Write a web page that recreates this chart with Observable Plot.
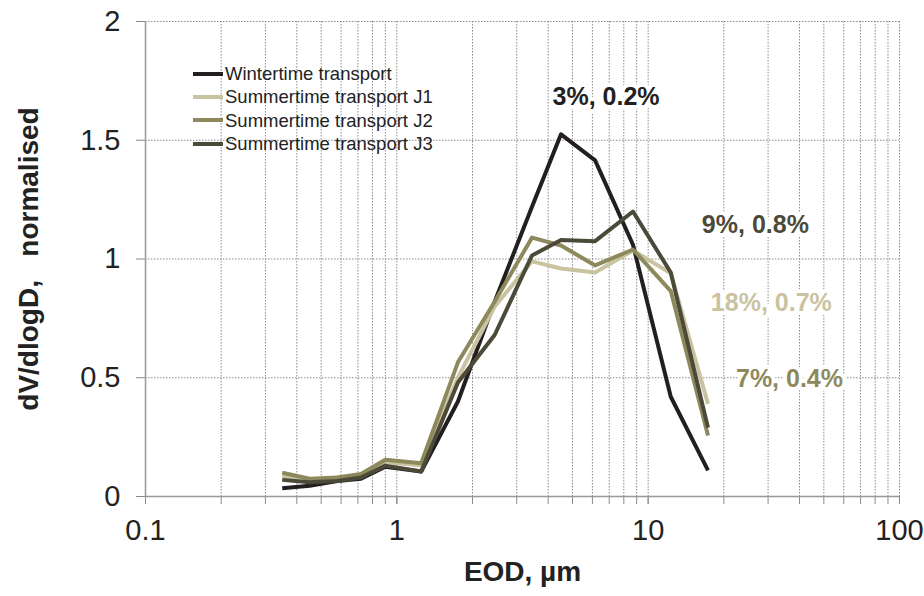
<!DOCTYPE html>
<html>
<head>
<meta charset="utf-8">
<script src="https://cdn.jsdelivr.net/npm/d3@7"></script>
<script src="https://cdn.jsdelivr.net/npm/@observablehq/plot@0.6"></script>
<style>
  body { margin: 0; background: #fff; }
  #wrap { position: relative; width: 924px; height: 596px; }
  #legend { position: absolute; left: 193px; top: 62px; font-family: "Liberation Sans", Arial, sans-serif; font-size: 18.5px; color: #222; line-height: 23.3px; }
  #legend .row { display: flex; align-items: center; white-space: nowrap; }
  #legend .sw { width: 30px; height: 4px; margin-right: 2px; }
</style>
</head>
<body>
<div id="wrap"><div id="legend"></div></div>
<script>
// ---- data ----
const sizes = [0.35, 0.45, 0.58, 0.72, 0.9, 1.25, 1.75, 2.45, 3.45, 4.5, 6.15, 8.7, 12.3, 17.3];
const winter = [0.035, 0.045, 0.065, 0.075, 0.125, 0.105, 0.40, 0.82, 1.22, 1.525, 1.415, 1.06, 0.42, 0.11];
const summerJ1 = [0.085, 0.07, 0.08, 0.09, 0.145, 0.13, 0.50, 0.80, 0.99, 0.96, 0.943, 1.036, 0.94, 0.39];
const summerJ2 = [0.10, 0.075, 0.08, 0.095, 0.155, 0.14, 0.565, 0.82, 1.09, 1.057, 0.973, 1.04, 0.865, 0.257];
const summerJ3 = [0.07, 0.06, 0.065, 0.08, 0.13, 0.105, 0.48, 0.68, 1.015, 1.08, 1.075, 1.2, 0.943, 0.29];
const seriesNames = ["Wintertime transport", "Summertime transport J1", "Summertime transport J2", "Summertime transport J3"];
const seriesColors = ["#231f20", "#c9c3a1", "#8e895d", "#4b4a39"];
const xTickLabels = [0.1, 1, 10, 100];
const yTicks = [0, 0.5, 1, 1.5, 2];
const annotationTexts = ["3%, 0.2%", "9%, 0.8%", "18%, 0.7%", "7%, 0.4%"];
const annotationSeries = [0, 3, 1, 2];
const annotationX = [6.8, 26.7, 30.9, 36.5];
const annotationY = [1.684, 1.145, 0.813, 0.493];

// ---- build ----
const allSeries = [winter, summerJ1, summerJ2, summerJ3];
const rows = [];
allSeries.forEach((vals, si) => vals.forEach((v, i) => rows.push({x: sizes[i], y: v, series: seriesNames[si]})));
const minorTicks = [];
[0.1, 1, 10].forEach(d => { for (let k = 1; k <= 9; k++) minorTicks.push(+(d * k).toPrecision(3)); });
minorTicks.push(100);
const annotations = annotationTexts.map((t, i) => ({text: t, x: annotationX[i], y: annotationY[i], color: seriesColors[annotationSeries[i]]}));

const font = '"Liberation Sans", Arial, sans-serif';

const chart = Plot.plot({
  width: 924,
  height: 596,
  marginLeft: 145,
  marginRight: 25,
  marginTop: 21,
  marginBottom: 100,
  style: {fontFamily: font, background: "#fff", overflow: "visible"},
  x: {type: "log", domain: [0.1, 100], label: null},
  y: {domain: [0, 2], label: null},
  color: {domain: seriesNames, range: seriesColors},
  marks: [
    Plot.gridX(minorTicks, {stroke: "#8a8a8a", strokeOpacity: 1, strokeDasharray: "1.5,1.5", strokeWidth: 1}),
    Plot.gridY(yTicks.filter(d => d > 0), {stroke: "#8a8a8a", strokeOpacity: 1, strokeDasharray: "1.5,1.5", strokeWidth: 1}),
    Plot.axisX(minorTicks, {tickSize: 8, tickFormat: () => "", stroke: "#8a8a8a", strokeWidth: 1}),
    Plot.axisX(xTickLabels, {tickSize: 8, tickPadding: 15, tickFormat: d => String(d), fontSize: 29, fill: "#222", stroke: "#8a8a8a", fontFamily: font}),
    Plot.axisY(yTicks, {tickSize: 9, tickPadding: 16, tickFormat: d => String(d), fontSize: 29, fill: "#222", stroke: "#8a8a8a", fontFamily: font}),
    Plot.ruleY([0], {stroke: "#999", strokeWidth: 1.5}),
    Plot.ruleX([0.1], {stroke: "#999", strokeWidth: 1.5}),
    Plot.line(rows, {x: "x", y: "y", z: "series", stroke: "series", strokeWidth: 4, strokeLinejoin: "round", strokeLinecap: "butt"}),
    Plot.text(annotations, {x: "x", y: "y", text: "text", fill: "color", stroke: "white", strokeWidth: 8, fontSize: 25, fontWeight: "bold", fontFamily: font}),
    Plot.text(["dV/dlogD,\u00a0\u00a0 normalised"], {frameAnchor: "left", textAnchor: "middle", dx: -116, rotate: -90, fontSize: 28, fontWeight: "bold", fill: "#222", fontFamily: font}),
    Plot.text(["EOD, µm"], {frameAnchor: "bottom", textAnchor: "middle", dy: 84, fontSize: 28, fontWeight: "bold", fill: "#222", fontFamily: font})
  ]
});

const wrap = document.getElementById("wrap");
wrap.insertBefore(chart, wrap.firstChild);

const legend = document.getElementById("legend");
seriesNames.forEach((n, i) => {
  const row = document.createElement("div");
  row.className = "row";
  const sw = document.createElement("span");
  sw.className = "sw";
  sw.style.background = seriesColors[i];
  const t = document.createElement("span");
  t.textContent = n;
  row.appendChild(sw); row.appendChild(t);
  legend.appendChild(row);
});
</script>
</body>
</html>
